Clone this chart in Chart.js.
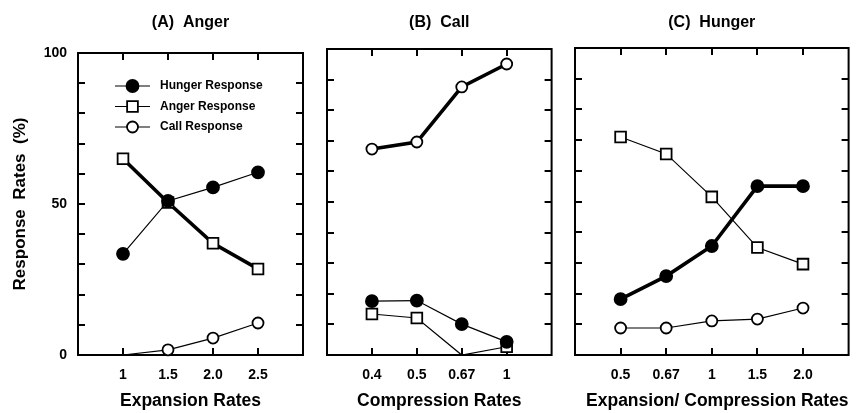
<!DOCTYPE html>
<html><head><meta charset="utf-8">
<script src="https://cdn.jsdelivr.net/npm/chart.js@4.4.1/dist/chart.umd.min.js"></script>
<style>
html,body{margin:0;padding:0;background:#fff;overflow:hidden;width:863px;height:413px;}
canvas{position:absolute;top:0;}
</style></head><body>
<canvas id="cA" width="315" height="413" style="left:0px;width:315px;height:413px"></canvas>
<canvas id="cB" width="246" height="413" style="left:315px;width:246px;height:413px"></canvas>
<canvas id="cC" width="297" height="413" style="left:561px;width:297px;height:413px"></canvas>
<script>
const FONT = "'Liberation Sans', Arial, Helvetica, sans-serif";
Chart.defaults.font.family = FONT;
Chart.defaults.color = '#000';

const seriesNames = ['Hunger Response', 'Anger Response', 'Call Response'];
const yTickLabels = [0, 50, 100];
const yMinorStep = 10;

// Panel A: Anger
const catsA = ['1', '1.5', '2.0', '2.5'];
const hungerA = [33.5, 51, 55.5, 60.5];
const angerA = [65, 50.5, 37, 28.5];
const callA = [0, 1.7, 5.6, 10.6];

// Panel B: Call
const catsB = ['0.4', '0.5', '0.67', '1'];
const hungerB = [17.6, 17.8, 10.1, 4.3];
const angerB = [13.4, 12.1, 0, 2.7];
const callB = [67.3, 69.6, 87.6, 95.1];

// Panel C: Hunger
const catsC = ['0.5', '0.67', '1', '1.5', '2.0'];
const hungerC = [18.2, 25.7, 35.5, 55, 55];
const angerC = [71, 65.5, 51.5, 35, 29.6];
const callC = [8.8, 8.8, 11.1, 11.7, 15.3];

const markerStyles = {
  hunger: { pointStyle: 'circle', r: 6, fill: '#000' },
  anger: { pointStyle: 'rect', r: 7.6, fill: '#fff' },
  call: { pointStyle: 'circle', r: 5.5, fill: '#fff' }
};

function pts(values) { return values.map((v, i) => ({ x: i + 1, y: v })); }

function ds(label, values, kind, thick) {
  const m = markerStyles[kind];
  return {
    label: label,
    data: pts(values),
    borderColor: '#000',
    borderWidth: thick ? 3.6 : 1.2,
    pointStyle: m.pointStyle,
    pointBackgroundColor: m.fill,
    pointBorderColor: '#000',
    pointBorderWidth: 1.8,
    legendRadius: m.r,
    pointRadius: (c) => (c.raw && c.raw.y === 0) ? 0 : m.r,
    tension: 0,
    clip: false
  };
}

const framePlugin = {
  id: 'frame',
  beforeDatasetsDraw(chart) {
    const { ctx, chartArea: a, scales: { x, y } } = chart;
    ctx.save();
    ctx.strokeStyle = '#000';
    ctx.lineWidth = 2;
    ctx.strokeRect(a.left, a.top, a.right - a.left, a.bottom - a.top);
    ctx.beginPath();
    for (let v = y.min + yMinorStep; v < y.max; v += yMinorStep) {
      const py = Math.round(y.getPixelForValue(v));
      ctx.moveTo(a.left, py); ctx.lineTo(a.left + 7, py);
      ctx.moveTo(a.right, py); ctx.lineTo(a.right - 7, py);
    }
    x.ticks.forEach(t => {
      const px = Math.round(x.getPixelForValue(t.value));
      ctx.moveTo(px, a.top); ctx.lineTo(px, a.top + 7);
      ctx.moveTo(px, a.bottom); ctx.lineTo(px, a.bottom - 7);
    });
    ctx.stroke();
    ctx.restore();
  }
};

const legendPlugin = {
  id: 'inlineLegend',
  afterDatasetsDraw(chart, args, o) {
    if (!o || !o.show) return;
    const { ctx, chartArea: a } = chart;
    chart.data.datasets.forEach((d, i) => {
      const yy = a.top + o.top + i * o.rowGap;
      const x0 = a.left + o.left;
      ctx.save();
      ctx.strokeStyle = '#000';
      ctx.lineWidth = 1.2;
      ctx.beginPath(); ctx.moveTo(x0, yy); ctx.lineTo(x0 + o.lineLen, yy); ctx.stroke();
      ctx.fillStyle = d.pointBackgroundColor;
      ctx.lineWidth = d.pointBorderWidth;
      Chart.helpers.drawPoint(ctx, { pointStyle: d.pointStyle, radius: d.legendRadius, borderWidth: d.pointBorderWidth, rotation: 0 }, x0 + o.lineLen / 2, yy);
      ctx.fillStyle = '#000';
      ctx.font = 'bold 12px ' + FONT;
      ctx.textBaseline = 'middle';
      ctx.textAlign = 'left';
      ctx.fillText(d.label, x0 + o.lineLen + o.textGap, yy);
      ctx.restore();
    });
  }
};

function makeChart(id, o) {
  return new Chart(document.getElementById(id), {
    type: 'line',
    data: { datasets: o.datasets },
    options: {
      responsive: false,
      animation: false,
      events: [],
      layout: { padding: { left: o.padL, right: o.padR, top: 0, bottom: 0 } },
      plugins: {
        legend: { display: false },
        tooltip: { enabled: false },
        title: {
          display: true, text: o.title, fullSize: false, color: '#000',
          font: { family: FONT, size: 16, weight: 'bold' },
          padding: { top: 12.5, bottom: o.titleBottom }
        },
        inlineLegend: o.legend || { show: false }
      },
      scales: {
        x: {
          type: 'linear', min: 0, max: o.xMax,
          grid: { display: false, drawTicks: false },
          border: { display: false },
          afterBuildTicks: (s) => { s.ticks = o.cats.map((c, i) => ({ value: i + 1 })); },
          afterFit: (s) => { s.height = o.xAxisH; },
          ticks: {
            autoSkip: false, maxRotation: 0, padding: 12, color: '#000',
            font: { family: FONT, size: 14, weight: 'bold' },
            callback: (v, i) => o.cats[i]
          },
          title: {
            display: true, text: o.xTitle, color: '#000', align: o.xTitleAlign || 'center',
            font: { family: FONT, size: 17.5, weight: 'bold' },
            padding: { top: 0, bottom: 1 }
          }
        },
        y: {
          type: 'linear', min: 0, max: 100, display: o.showY,
          grid: { display: false, drawTicks: false },
          border: { display: false },
          afterBuildTicks: (s) => { s.ticks = yTickLabels.map(v => ({ value: v })); },
          afterFit: (s) => { if (o.showY) s.width = o.yAxisW; },
          ticks: { padding: 11, color: '#000', font: { family: FONT, size: 14, weight: 'bold' } },
          title: {
            display: true, text: 'Response  Rates  (%)', color: '#000',
            font: { family: FONT, size: 17, weight: 'bold' },
            padding: { top: 10, bottom: 0 }
          }
        }
      }
    },
    plugins: [framePlugin, legendPlugin]
  });
}

makeChart('cA', {
  title: '(A)  Anger', xTitle: 'Expansion Rates', cats: catsA, xMax: 5,
  padL: 0, padR: 12, titleBottom: 21.3, xAxisH: 58, showY: true, yAxisW: 78,
  datasets: [
    ds(seriesNames[0], hungerA, 'hunger', false),
    ds(seriesNames[1], angerA, 'anger', true),
    ds(seriesNames[2], callA, 'call', false)
  ],
  legend: { show: true, top: 33, rowGap: 20.5, left: 37, lineLen: 35, textGap: 10 }
});

makeChart('cB', {
  title: '(B)  Call', xTitle: 'Compression Rates', cats: catsB, xMax: 5,
  padL: 12, padR: 9, titleBottom: 17.3, xAxisH: 58, showY: false,
  datasets: [
    ds(seriesNames[0], hungerB, 'hunger', false),
    ds(seriesNames[1], angerB, 'anger', false),
    ds(seriesNames[2], callB, 'call', true)
  ]
});

makeChart('cC', {
  title: '(C)  Hunger', xTitle: 'Expansion/ Compression Rates', xTitleAlign: 'end', cats: catsC, xMax: 6,
  padL: 14, padR: 9, titleBottom: 16.3, xAxisH: 58, showY: false,
  datasets: [
    ds(seriesNames[0], hungerC, 'hunger', true),
    ds(seriesNames[1], angerC, 'anger', false),
    ds(seriesNames[2], callC, 'call', false)
  ]
});
</script>
</body></html>
